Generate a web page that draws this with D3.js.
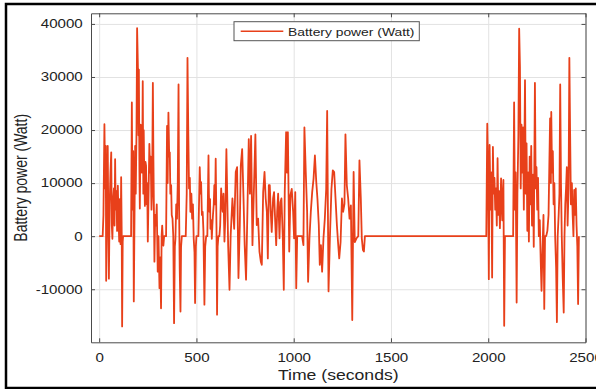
<!DOCTYPE html>
<html>
<head>
<meta charset="utf-8">
<script src="https://cdn.jsdelivr.net/npm/d3@7"></script>
<style>
  body { margin: 0; background: #fff; }
  svg { display: block; font-family: Arial, "Liberation Sans", sans-serif; }
</style>
</head>
<body>
<svg width="596" height="389"></svg>
<script>
// [time (s), battery power (W)], one array per driving cycle
var cycle1 = [
  [0, 0], [18, 0], [22, 4000], [27, 21100], [31, 9000], [34, 17000], [36, -8400], [40, 5000],
  [44, 17000], [47, 3000], [50, -8000], [54, 6000], [58, 12000], [62, 15800], [65, 2000],
  [68, -500], [72, 7000], [76, 9000], [79, 2000], [82, 14500], [85, 5000], [89, 8500],
  [92, 1000], [96, 9500], [99, 4000], [103, -1000], [106, 7000], [110, -1500], [113, 11100],
  [116, 0], [118, -17000], [121, -1000], [123, 0], [164, 0], [168, 25200], [171, 5000],
  [175, 16000], [178, -12300], [182, 5000], [185, 17000], [188, 8000], [192, 20000],
  [195, 39200], [199, 32000], [202, 19000], [204, 31400], [207, 12000], [209, 5200],
  [213, 21000], [216, 20800], [219, 12000], [222, 18000], [224, 29200], [227, 8000],
  [229, 20000], [232, 11000], [235, 5700], [238, 14000], [241, 13300], [244, 6000],
  [247, 10000], [250, -1000], [254, 8000], [258, 17400], [262, 12000], [265, 15000],
  [269, 5000], [272, 8000], [276, 28900], [279, 14000], [282, 3000], [284, -4800],
  [288, 4000], [292, 2000], [296, 6000], [301, -6700], [305, 0], [310, -9800], [314, -4000],
  [318, -13600], [321, 0], [324, 2000], [328, -1000], [330, -1800], [334, 0], [344, 0],
  [349, 20800], [352, 10000], [356, 23300], [360, 15000], [363, 15800], [366, 8000],
  [370, 9600], [373, 4000], [377, 3300], [381, 0], [385, -16400], [389, -2000], [392, -500],
  [396, 6000], [400, 3300], [404, 10000], [408, 28600], [411, 5000], [414, -6000],
  [418, -14200], [421, -2000], [425, 0], [445, 0], [450, 8000], [454, 33600], [458, 20000],
  [462, 9000], [466, 11000], [469, 4600], [474, 8000], [478, 3300], [482, 6000], [486, -500],
  [490, -3000], [493, -12600], [497, -2000], [500, 0], [510, 0], [517, 13000], [521, 8000],
  [524, 10200], [528, 4000], [532, 4600], [536, 1000], [541, -12900], [545, -2000],
  [550, 0], [556, 0], [562, 15200], [564, 8000], [567, 4600], [570, 7000], [572, 1400],
  [576, 3000], [579, -500], [582, 2000], [585, 4000], [589, 6000], [592, 9600], [596, 6000],
  [599, 14600], [603, 2000], [606, -14800], [609, -2000], [613, 0], [618, 0], [622, 2000],
  [627, 9000], [631, 6000], [635, 4600], [639, 8000], [644, -1000], [648, 3000]
];

var cycle2 = [
  [654, 16400], [663, -1700], [670, -10100], [676, 200], [685, 7100], [694, 1400],
  [702, 12100], [709, 13000], [716, -7900], [723, 2100], [728, 13300], [735, 16400],
  [742, 7100], [748, -1700], [755, -8200], [762, 4600], [769, 18300], [775, 8000],
  [781, 18900], [788, -1700], [796, 9600], [803, 19200], [810, 2100], [817, 3300],
  [824, -2900], [831, -4800], [836, -5400], [843, 8300], [850, 12100], [856, 7100],
  [862, 4600], [867, -4200], [872, 9600], [877, 9600], [882, 4600], [887, 800], [894, 7100],
  [899, 8300], [905, 2700], [910, -1700], [915, 4600], [920, 8000], [927, -400], [932, 6400],
  [937, 7100], [944, -400], [949, -10100], [954, 8300], [961, 19600], [965, 12000],
  [970, 19600], [977, -2900], [983, 7700], [990, 8900], [997, 4600], [1002, -400],
  [1008, 8300], [1013, -9800], [1018, 0], [1043, 0], [1050, -1700], [1055, 20500],
  [1062, 12100], [1069, 4600], [1074, -8600], [1081, -400], [1088, 4600], [1095, 8300],
  [1102, 10800], [1109, 15200], [1116, 10200], [1122, 7100], [1129, 2100], [1134, -5400],
  [1140, -1700], [1146, -6700], [1153, -400], [1160, 3300], [1167, 8900], [1172, 23600],
  [1179, -10400], [1186, -400], [1194, 8900], [1201, 12400], [1208, 12100], [1215, 7100],
  [1222, 2100], [1229, -1700], [1234, -4200], [1241, -1100], [1248, 7100], [1254, 4600],
  [1261, 6100], [1266, 19200], [1273, 9600], [1280, 7100], [1287, 3300], [1294, 5800],
  [1301, -15800], [1308, 12100], [1314, -1100], [1323, -400], [1332, 0], [1338, 14300],
  [1345, 7100], [1350, -400], [1356, -2600], [1361, -2900], [1366, 0], [1990, 0]
];

var cycle3 = [
  [1995, 21200], [1999, 13000], [2003, -8100], [2007, 17200], [2012, 5000], [2016, 12000],
  [2020, -7800], [2024, 16800], [2028, 8000], [2032, 11000], [2036, 5000], [2040, 9000],
  [2044, 2000], [2048, 14700], [2052, 4000], [2056, 8500], [2060, 1500], [2066, 10900],
  [2072, 3000], [2078, 10600], [2082, -16900], [2086, 0], [2128, 0], [2133, 25200],
  [2137, 5000], [2141, 12000], [2146, -12500], [2150, 8000], [2155, 19000], [2159, 39100],
  [2163, 32000], [2167, 9000], [2171, 21000], [2175, 12000], [2179, 20500], [2183, 5000],
  [2189, 29400], [2193, 8000], [2197, 17500], [2201, 1000], [2205, 12000], [2209, -1000],
  [2213, 15000], [2217, 6000], [2221, 17000], [2225, 2000], [2230, 11600], [2234, -2000],
  [2240, 28900], [2244, 9000], [2248, 13000], [2252, 5000], [2256, 11000], [2260, 0],
  [2265, 3000], [2270, -5000], [2274, -10300], [2278, -4000], [2284, 4000], [2288, -13700],
  [2292, 0], [2298, 0], [2304, 1000], [2310, 4000], [2318, 22200], [2322, 10000],
  [2324, 23400], [2328, 12000], [2332, 16000], [2336, 6000], [2340, 10000], [2344, 0],
  [2349, -6000], [2353, -16200], [2357, 0], [2362, 4000], [2366, 8000], [2370, 28600],
  [2374, 10000], [2378, 0], [2383, -8000], [2388, -14400], [2392, 0], [2396, 6000],
  [2400, 9000], [2404, 13000], [2408, 2000], [2413, 9000], [2417, 33600], [2421, 19300],
  [2425, 6000], [2430, 10000], [2434, 4000], [2438, 0], [2442, 8700], [2446, 4000],
  [2450, 9000], [2454, 2000], [2458, -2000], [2462, -12800], [2466, 0]
];

var xTicks = [0, 500, 1000, 1500, 2000, 2500];
var yTicks = [-10000, 0, 10000, 20000, 30000, 40000];
var xLabel = "Time (seconds)";
var yLabel = "Battery power (Watt)";
var seriesName = "Battery power (Watt)";

var svg = d3.select("svg");

// the picture is a bit stretched sideways, so text gets squeezed the same way
const stretch = 1.26;
const lineColor = "#e8401a";

const plotLeft = 91, plotRight = 585.5, plotTop = 13.3, plotBottom = 342.3;

var x = d3.scaleLinear().domain([-42, 2500]).range([plotLeft, plotRight]);
var y = d3.scaleLinear().domain([-20000, 42000]).range([plotBottom, plotTop]);

// plain numbers, ascii minus like matlab
var plainNum = d => String(d);

// grid
svg.append("g")
  .attr("transform", "translate(0," + plotBottom + ")")
  .call(d3.axisBottom(x).tickValues(xTicks).tickSize(-(plotBottom - plotTop)).tickFormat(""))
  .call(g => g.select(".domain").remove())
  .call(g => g.selectAll("line").attr("stroke", "#e2e2e2"));

svg.append("g")
  .attr("transform", "translate(" + plotLeft + ",0)")
  .call(d3.axisLeft(y).tickValues(yTicks).tickSize(-(plotRight - plotLeft)).tickFormat(""))
  .call(g => g.select(".domain").remove())
  .call(g => g.selectAll("line").attr("stroke", "#e2e2e2"));

// data line
var line = d3.line()
  .x(d => x(d[0]))
  .y(d => y(d[1]));

var allPoints = cycle1.concat(cycle2, cycle3);

svg.append("path")
  .datum(allPoints)
  .attr("fill", "none")
  .attr("stroke", lineColor)
  .attr("stroke-width", 1.8)
  .attr("stroke-linejoin", "round")
  .attr("d", line);

// axes, ticks pointing inwards like matlab
var axisColor = "#4a4a4a";

function styleAxis(g) {
  g.select(".domain").attr("stroke", axisColor);
  g.selectAll(".tick line").attr("stroke", axisColor);
  g.selectAll("text")
    .attr("fill", "#222")
    .attr("font-size", 12);
}

svg.append("g")
  .attr("transform", "translate(0," + plotBottom + ")")
  .call(d3.axisBottom(x).tickValues(xTicks).tickSize(-4).tickPadding(11).tickSizeOuter(0).tickFormat(plainNum))
  .call(styleAxis)
  .call(g => g.selectAll("text").attr("transform", "scale(" + stretch + ",1)"));

svg.append("g")
  .attr("transform", "translate(0," + plotTop + ")")
  .call(d3.axisTop(x).tickValues(xTicks).tickSize(-4).tickFormat("").tickSizeOuter(0))
  .call(styleAxis);

svg.append("g")
  .attr("transform", "translate(" + plotLeft + ",0)")
  .call(d3.axisLeft(y).tickValues(yTicks).tickSize(-4).tickSizeOuter(0).tickFormat(plainNum))
  .call(styleAxis)
  .call(g => g.selectAll("text")
    .attr("x", -8.3 / stretch)
    .attr("transform", "scale(" + stretch + ",1)"));

svg.append("g")
  .attr("transform", "translate(" + plotRight + ",0)")
  .call(d3.axisRight(y).tickValues(yTicks).tickSize(-4).tickFormat("").tickSizeOuter(0))
  .call(styleAxis);

// axis titles
svg.append("text")
  .attr("transform", "translate(" + (plotLeft + plotRight) / 2 + ",380) scale(" + stretch + ",1)")
  .attr("text-anchor", "middle")
  .attr("font-size", 14)
  .attr("fill", "#222")
  .text(xLabel);

svg.append("text")
  .attr("transform", "translate(27," + (plotTop + plotBottom) / 2 + ") rotate(-90) scale(1," + stretch + ")")
  .attr("text-anchor", "middle")
  .attr("font-size", 14)
  .attr("fill", "#222")
  .text(yLabel);

// legend
var legend = svg.append("g").attr("transform", "translate(234,21.7)");

legend.append("rect")
  .attr("width", 185.3)
  .attr("height", 19)
  .attr("fill", "#fff")
  .attr("stroke", "#555");

legend.append("line")
  .attr("x1", 6.7).attr("x2", 49.3)
  .attr("y1", 9.5).attr("y2", 9.5)
  .attr("stroke", lineColor)
  .attr("stroke-width", 1.6);

legend.append("text")
  .attr("transform", "translate(54,14) scale(" + stretch + ",1)")
  .attr("font-size", 11)
  .attr("fill", "#222")
  .text(seriesName);

// black frame round the figure (no right edge in the picture)
svg.append("path")
  .attr("d", "M596,4H6V388H596")
  .attr("fill", "none")
  .attr("stroke", "#000")
  .attr("stroke-width", 2.5);
</script>
</body>
</html>
